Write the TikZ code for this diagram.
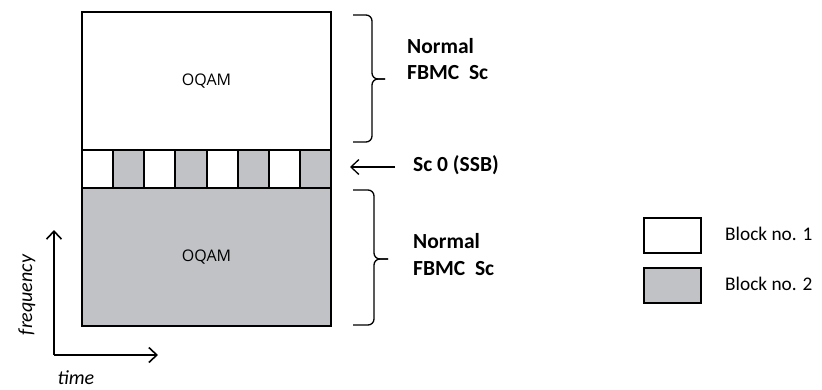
\documentclass[tikz,border=0pt]{standalone}
\usepackage{fontspec}
\setmainfont{Carlito}
\newfontfamily\oqfont{Open Sans}
\usetikzlibrary{arrows.meta}
\definecolor{blockgray}{RGB}{192,194,197}
\tikzset{
  blk/.style={draw=black,line width=2pt,inner sep=0pt,anchor=north west},
  whiteblk/.style={blk,fill=white},
  grayblk/.style={blk,fill=blockgray},
  boldlbl/.style={font=\fontsize{21.5}{21.5}\selectfont\bfseries,anchor=base west,inner sep=0pt},
  leglbl/.style={font=\fontsize{19.3}{19.3}\selectfont,anchor=base west,inner sep=0pt},
  bracepath/.style={line width=1.3pt,rounded corners=6pt},
  axis/.style={line width=1.6pt,-{Straight Barb[length=8pt,width=15pt,line width=1.6pt]}},
}
\begin{document}
\begin{tikzpicture}[x=1pt,y=-1pt]
\useasboundingbox (0,0) rectangle (822,389);
% main blocks
\node[whiteblk,minimum width=249pt,minimum height=138pt] (top) at (81,11) {};
\node[grayblk,minimum width=249pt,minimum height=138pt] (bot) at (81,187) {};
\node[font=\oqfont\fontsize{16}{16}\selectfont] (oq1) at (top.center) {OQAM};
\node[font=\oqfont\fontsize{16}{16}\selectfont] (oq2) at (bot.center) {OQAM};
% strip cells
\foreach \i in {0,...,7}{
  \pgfmathtruncatemacro{\odd}{mod(\i,2)}
  \ifnum\odd=0
    \node[whiteblk,minimum width=31.125pt,minimum height=38pt] (c\i) at (81+31.125*\i,149) {};
  \else
    \node[grayblk,minimum width=31.125pt,minimum height=38pt] (c\i) at (81+31.125*\i,149) {};
  \fi
}
% braces
\draw[bracepath] (353,15) -- (372,15) -- (372,79) -- (385,79);
\draw[bracepath] (385,79) -- (372,79) -- (372,142) -- (353,142);
\draw[bracepath] (353,190) -- (374,190) -- (374,259) -- (388,259);
\draw[bracepath] (388,259) -- (374,259) -- (374,325) -- (353,325);
% labels
\node[boldlbl] (n1) at (407,53) {Normal};
\node[boldlbl] (f1) at (407,79) {FBMC\ \ Sc};
\node[boldlbl] (n2) at (413,248) {Normal};
\node[boldlbl] (f2) at (413,275) {FBMC\ \ Sc};
\node[boldlbl] (ssb) at (413,171) {Sc 0 (SSB)};
\coordinate (ssbend) at (350,167);
\draw[line width=1.3pt,-{Straight Barb[length=8pt,width=15pt,line width=1.3pt]}] (395,167) -- (ssbend);
% legend
\node[whiteblk,minimum width=57pt,minimum height=35pt] (l1) at (643,217) {};
\node[grayblk,minimum width=57pt,minimum height=35pt] (l2) at (643,267) {};
\node[leglbl] (t1) at (725,240) {Block no. 1};
\node[leglbl] (t2) at (725,290) {Block no. 2};
% axes
\coordinate (o) at (54,355);
\coordinate (fy) at (54,230);
\coordinate (tx) at (158,355);
\draw[axis] (o) -- (fy);
\draw[axis] (o) -- (tx);
\node[font=\fontsize{20}{20}\selectfont\itshape,rotate=90] (freq) at (27,295) {frequency};
\node[font=\fontsize{20}{20}\selectfont\itshape] (time) at (76,378) {time};
\end{tikzpicture}
\end{document}
